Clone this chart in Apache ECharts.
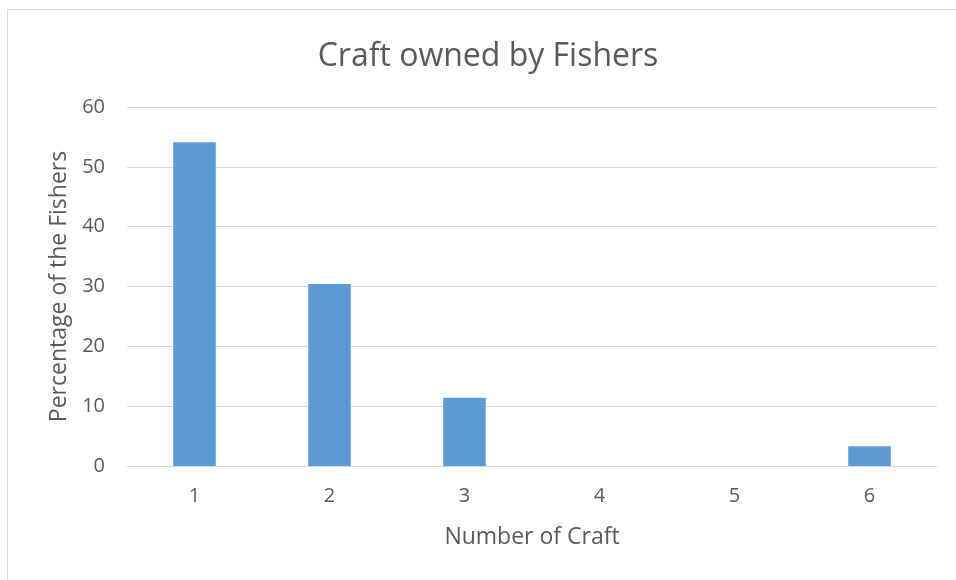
<!DOCTYPE html>
<html>
<head>
<meta charset="utf-8">
<script src="https://cdn.jsdelivr.net/npm/echarts@6/dist/echarts.min.js"></script>
<style>
  html, body { margin: 0; padding: 0; background: #fff; }
  #chart { width: 956px; height: 580px; }
</style>
</head>
<body>
<div id="chart"></div>
<script>
// Number of craft owned, and share of fishers (%) for each count
const crafts = ['1', '2', '3', '4', '5', '6'];
const percentages = [54.1, 30.4, 11.4, 0, 0, 3.3];
const yTicks = [0, 10, 20, 30, 40, 50, 60];

const chart = echarts.init(document.getElementById('chart'));
const FONT = '"Open Sans", "Liberation Sans", sans-serif';
const TEXT = '#595959';
const GRID = '#d9d9d9';

chart.setOption({
  animation: false,
  backgroundColor: '#ffffff',
  graphic: [{
    type: 'rect',
    shape: { x: 7.5, y: 9.5, width: 1000, height: 700 },
    style: { fill: 'none', stroke: '#d9d9d9', lineWidth: 1 },
    silent: true
  }],
  title: {
    text: 'Craft owned by Fishers',
    left: 483,
    textAlign: 'center',
    top: 36,
    textStyle: { fontFamily: FONT, fontSize: 32, fontWeight: 'normal', color: TEXT }
  },
  grid: { left: 127, right: 19, top: 107, bottom: 114 },
  xAxis: {
    type: 'category',
    data: crafts,
    name: 'Number of Craft',
    nameLocation: 'middle',
    nameGap: 60,
    nameTextStyle: { fontFamily: FONT, fontSize: 23, color: TEXT },
    axisLine: { show: true, lineStyle: { color: GRID, width: 1 } },
    axisTick: { show: false },
    axisLabel: { fontFamily: FONT, fontSize: 20, color: TEXT, margin: 20 }
  },
  yAxis: {
    type: 'value',
    min: yTicks[0],
    max: yTicks[yTicks.length - 1],
    interval: 10,
    name: 'Percentage of the Fishers',
    nameLocation: 'middle',
    nameGap: 54,
    nameTextStyle: { fontFamily: FONT, fontSize: 23, color: TEXT },
    axisLine: { show: false },
    axisTick: { show: false },
    splitLine: { lineStyle: { color: GRID, width: 1 } },
    axisLabel: { fontFamily: FONT, fontSize: 20, color: TEXT, margin: 22 }
  },
  series: [{
    type: 'bar',
    data: percentages,
    barWidth: '31.5%',
    itemStyle: { color: '#5b9bd5' }
  }]
});
</script>
</body>
</html>
